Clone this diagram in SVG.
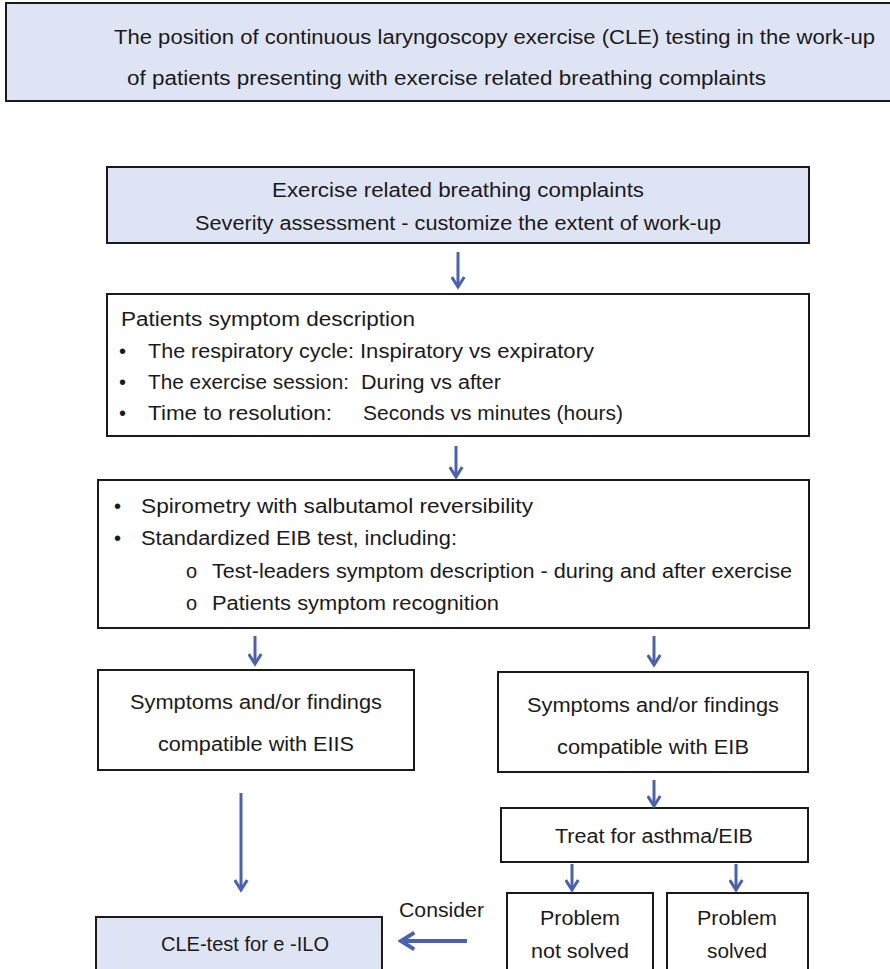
<svg xmlns="http://www.w3.org/2000/svg" width="890" height="969" viewBox="0 0 890 969">
<defs>
<style>
.t{font-family:"Liberation Sans",Arial,sans-serif;font-size:20px;fill:#1a1a1a}
.c{text-anchor:middle}
.box{fill:#ffffff;stroke:#1a1a1a;stroke-width:2}
.blue{fill:#dfe4f4}
.arr{stroke:#4a62ad;stroke-width:3;fill:none}
.arrh{stroke:#4a62ad;stroke-width:4;fill:none}
</style>
<marker id="ah" viewBox="0 0 12 12" refX="10" refY="6" markerWidth="5" markerHeight="5" orient="auto" markerUnits="strokeWidth">
<path d="M2,1 L10,6 L2,11" fill="none" stroke="#4a62ad" stroke-width="2.4" stroke-linejoin="miter"/>
</marker>
</defs>
<rect width="890" height="969" fill="#ffffff"/>
<g id="title">
<rect class="box blue" x="6" y="3" width="900" height="98"/>
<text class="t" x="114" y="44" textLength="761" lengthAdjust="spacingAndGlyphs">The position of continuous laryngoscopy exercise (CLE) testing in the work-up</text>
<text class="t" x="127" y="85" textLength="639" lengthAdjust="spacingAndGlyphs">of patients presenting with exercise related breathing complaints</text>
</g>
<g id="complaints">
<rect class="box blue" x="107" y="167" width="702" height="76"/>
<text class="t c" x="458" y="197" textLength="372" lengthAdjust="spacingAndGlyphs">Exercise related breathing complaints</text>
<text class="t c" x="458" y="230" textLength="526" lengthAdjust="spacingAndGlyphs">Severity assessment - customize the extent of work-up</text>
</g>
<g id="symptoms">
<rect class="box" x="107" y="294" width="702" height="142"/>
<text class="t" x="121" y="326" textLength="294" lengthAdjust="spacingAndGlyphs">Patients symptom description</text>
<text class="t" x="119" y="358">•</text>
<text class="t" x="148" y="358" textLength="206" lengthAdjust="spacingAndGlyphs">The respiratory cycle:</text>
<text class="t" x="360" y="358" textLength="234" lengthAdjust="spacingAndGlyphs">Inspiratory vs expiratory</text>
<text class="t" x="119" y="389">•</text>
<text class="t" x="148" y="389" textLength="201" lengthAdjust="spacingAndGlyphs">The exercise session:</text>
<text class="t" x="361" y="389" textLength="140" lengthAdjust="spacingAndGlyphs">During vs after</text>
<text class="t" x="119" y="420">•</text>
<text class="t" x="148" y="420" textLength="184" lengthAdjust="spacingAndGlyphs">Time to resolution:</text>
<text class="t" x="363" y="420" textLength="260" lengthAdjust="spacingAndGlyphs">Seconds vs minutes (hours)</text>
</g>
<g id="tests">
<rect class="box" x="98" y="480" width="711" height="148"/>
<text class="t" x="114" y="513">•</text>
<text class="t" x="141" y="513" textLength="392" lengthAdjust="spacingAndGlyphs">Spirometry with salbutamol reversibility</text>
<text class="t" x="114" y="545">•</text>
<text class="t" x="141" y="545" textLength="316" lengthAdjust="spacingAndGlyphs">Standardized EIB test, including:</text>
<text class="t" x="186" y="578">o</text>
<text class="t" x="212" y="578" textLength="580" lengthAdjust="spacingAndGlyphs">Test-leaders symptom description - during and after exercise</text>
<text class="t" x="186" y="610">o</text>
<text class="t" x="212" y="610" textLength="287" lengthAdjust="spacingAndGlyphs">Patients symptom recognition</text>
</g>
<g id="eiis">
<rect class="box" x="98" y="670" width="316" height="100"/>
<text class="t c" x="256" y="709" textLength="252" lengthAdjust="spacingAndGlyphs">Symptoms and/or findings</text>
<text class="t c" x="256" y="751" textLength="196" lengthAdjust="spacingAndGlyphs">compatible with EIIS</text>
</g>
<g id="eib">
<rect class="box" x="498" y="672" width="310" height="100"/>
<text class="t c" x="653" y="712" textLength="252" lengthAdjust="spacingAndGlyphs">Symptoms and/or findings</text>
<text class="t c" x="653" y="754" textLength="192" lengthAdjust="spacingAndGlyphs">compatible with EIB</text>
</g>
<g id="treat">
<rect class="box" x="501" y="808" width="307" height="54"/>
<text class="t c" x="654" y="843" textLength="198" lengthAdjust="spacingAndGlyphs">Treat for asthma/EIB</text>
</g>
<g id="notsolved">
<rect class="box" x="507" y="893" width="146" height="90"/>
<text class="t c" x="580" y="925" textLength="80" lengthAdjust="spacingAndGlyphs">Problem</text>
<text class="t c" x="580" y="958" textLength="98" lengthAdjust="spacingAndGlyphs">not solved</text>
</g>
<g id="solved">
<rect class="box" x="667" y="893" width="141" height="90"/>
<text class="t c" x="737" y="925" textLength="80" lengthAdjust="spacingAndGlyphs">Problem</text>
<text class="t c" x="737" y="958" textLength="60" lengthAdjust="spacingAndGlyphs">solved</text>
</g>
<g id="cle">
<rect class="box blue" x="96" y="917" width="286" height="70"/>
<text class="t c" x="245" y="951" textLength="168" lengthAdjust="spacingAndGlyphs">CLE-test for e -ILO</text>
</g>
<g id="connectors">
<line class="arr" x1="458" y1="252" x2="458" y2="287" marker-end="url(#ah)"/>
<line class="arr" x1="456" y1="446" x2="456" y2="477" marker-end="url(#ah)"/>
<line class="arr" x1="255" y1="636" x2="255" y2="664" marker-end="url(#ah)"/>
<line class="arr" x1="654" y1="636" x2="654" y2="665" marker-end="url(#ah)"/>
<line class="arr" x1="654" y1="780" x2="654" y2="806" marker-end="url(#ah)"/>
<line class="arr" x1="241" y1="793" x2="241" y2="890" marker-end="url(#ah)"/>
<line class="arr" x1="572" y1="864" x2="572" y2="890" marker-end="url(#ah)"/>
<line class="arr" x1="736" y1="864" x2="736" y2="890" marker-end="url(#ah)"/>
<line class="arrh" x1="467" y1="941" x2="401" y2="941" marker-end="url(#ah)"/>
<text class="t" x="399" y="917" textLength="85" lengthAdjust="spacingAndGlyphs">Consider</text>
</g>
</svg>
